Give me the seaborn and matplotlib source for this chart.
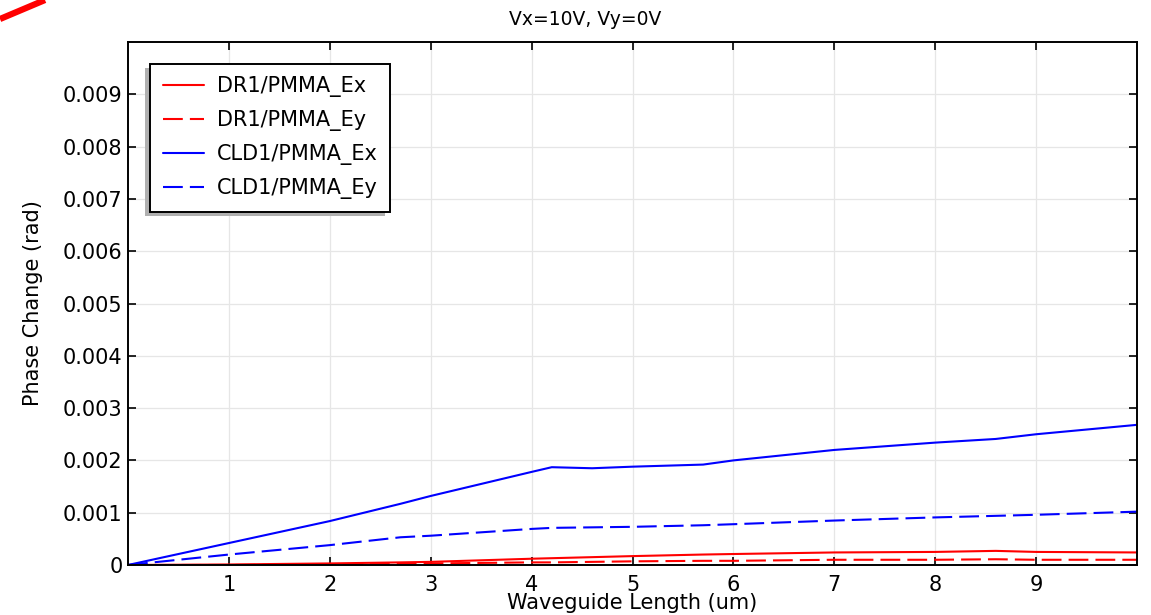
import numpy as np
import pandas as pd
import seaborn as sns
import matplotlib
matplotlib.use("Agg")
import matplotlib.pyplot as plt
from matplotlib.patches import Rectangle
from matplotlib.lines import Line2D

# ---- data ----
x_um = [0, 1, 2, 2.7, 3, 4, 4.2, 4.6, 5, 5.7, 6, 7, 8, 8.6, 9, 10]
dr1_ex = [0, 0.00001, 0.00003, 0.00005, 0.00006, 0.00012, 0.00013, 0.00015, 0.00017,
          0.00020, 0.00021, 0.00024, 0.00025, 0.00027, 0.00025, 0.00024]
dr1_ey = [0, 0.0, 0.00001, 0.00002, 0.00003, 0.00005, 0.00005, 0.00006, 0.00007,
          0.00008, 0.00008, 0.00010, 0.00010, 0.00011, 0.00010, 0.00010]
cld1_ex = [0, 0.00042, 0.00084, 0.00117, 0.00132, 0.00178, 0.00187, 0.00185, 0.00188,
           0.00192, 0.00200, 0.00220, 0.00234, 0.00241, 0.00250, 0.00268]
cld1_ey = [0, 0.00020, 0.00038, 0.00053, 0.00056, 0.00069, 0.00071, 0.00072, 0.00073,
           0.00076, 0.00078, 0.00085, 0.00091, 0.00094, 0.00096, 0.00102]
series_names = ["DR1/PMMA_Ex", "DR1/PMMA_Ey", "CLD1/PMMA_Ex", "CLD1/PMMA_Ey"]
series_values = [dr1_ex, dr1_ey, cld1_ex, cld1_ey]
x_ticks = [1, 2, 3, 4, 5, 6, 7, 8, 9]
y_ticks = [0, 0.001, 0.002, 0.003, 0.004, 0.005, 0.006, 0.007, 0.008, 0.009]
y_tick_labels = ["0", "0.001", "0.002", "0.003", "0.004", "0.005", "0.006", "0.007", "0.008", "0.009"]
title = "Vx=10V, Vy=0V"
x_label = "Waveguide Length (um)"
y_label = "Phase Change (rad)"

df = pd.DataFrame({
    "x": np.tile(x_um, len(series_names)),
    "y": np.concatenate(series_values),
    "series": np.repeat(series_names, len(x_um)),
})

sns.set_theme(style="white")
plt.rcParams["font.family"] = ["DejaVu Sans"]
plt.rcParams["text.color"] = "black"

fig = plt.figure(figsize=(11.51, 6.15), dpi=100)
ax = fig.add_axes([128 / 1151, 50 / 615, 1009 / 1151, 523 / 615])

palette = {"DR1/PMMA_Ex": "#ff0000", "DR1/PMMA_Ey": "#ff0000",
           "CLD1/PMMA_Ex": "#0000ff", "CLD1/PMMA_Ey": "#0000ff"}
dashes = {"DR1/PMMA_Ex": "", "DR1/PMMA_Ey": (9.5, 3.4),
          "CLD1/PMMA_Ex": "", "CLD1/PMMA_Ey": (9.5, 3.4)}
sns.lineplot(data=df, x="x", y="y", hue="series", style="series",
             palette=palette, dashes=dashes, hue_order=series_names,
             style_order=series_names, linewidth=1.5, ax=ax, legend=True,
             estimator=None, sort=False)

ax.set_xlim(0, 10)
ax.set_ylim(0, 0.01)
ax.set_xticks(x_ticks)
ax.set_xticklabels([str(t) for t in x_ticks])
ax.set_yticks(y_ticks)
ax.set_yticklabels(y_tick_labels)
ax.grid(True, color="#e6e6e6", linewidth=0.9)
ax.set_axisbelow(True)
ax.tick_params(axis="both", direction="in", length=6, width=1.2, color="black",
               labelsize=15, top=True, right=True, bottom=True, left=True,
               labelcolor="black")
ax.tick_params(axis="x", pad=7)
ax.tick_params(axis="y", pad=4)
for s in ax.spines.values():
    s.set_visible(True)
    s.set_color("black")
    s.set_linewidth(1.4)

ax.set_title(title, fontsize=13.5, pad=12, color="black", x=0.453)
ax.set_xlabel(x_label, fontsize=15, labelpad=-1.5, color="black")
ax.set_ylabel(y_label, fontsize=15, labelpad=14, color="black")

handles, labels = ax.get_legend_handles_labels()
leg = ax.legend(handles, labels, loc="upper left", bbox_to_anchor=(0.022, 0.958),
                borderaxespad=0, fontsize=15, frameon=True, fancybox=False,
                edgecolor="black", framealpha=1, handlelength=2.0,
                labelspacing=0.62, borderpad=0.6, handletextpad=0.6,
                labelcolor="black")
leg.get_frame().set_linewidth(1.4)
leg.set_zorder(6)

fig.canvas.draw()
bb = leg.get_window_extent()
shadow = Rectangle((bb.x0 - 5, bb.y0 - 4), bb.width, bb.height, transform=None,
                   facecolor="#b0b0b0", edgecolor="none", zorder=5)
ax.add_artist(shadow)

# red stroke in the top-left corner of the reference image
fig.add_artist(Line2D([0, 45 / 1151], [1 - 19 / 615, 1.0], transform=fig.transFigure,
                      color="#ff0000", linewidth=4.5, solid_capstyle="butt"))

fig.savefig("out.png", dpi=100)
